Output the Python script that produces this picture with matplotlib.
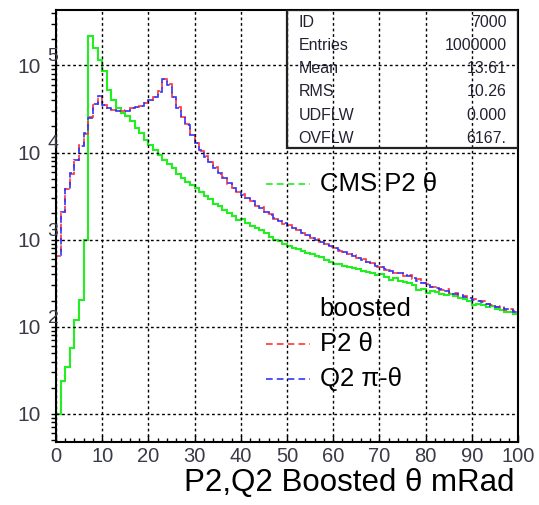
import numpy as np
import matplotlib
matplotlib.use('Agg')
import matplotlib.pyplot as plt
from matplotlib.ticker import MultipleLocator, LogLocator, NullFormatter
import matplotlib.transforms as mtransforms

plt.rcParams['font.family'] = ['Liberation Sans', 'DejaVu Sans']

# histogram: 100 bins of 1 mRad, 0..100
edges = np.arange(0, 101, 1)

# CMS P2 theta (green)
cms_p2 = [10, 24, 35, 57, 121, 203, 1000, 220000, 158000, 114000,
          87000, 52000, 40000, 32500, 28400, 26400, 22900, 19000, 16800, 14100,
          12100, 10600, 9400, 8300, 7300, 6600, 5750, 5100, 4600, 4300,
          3900, 3500, 3160, 2900, 2600, 2430, 2200, 2040, 1870, 1700,
          1730, 1550, 1420, 1350, 1300, 1200, 1070, 1000, 960, 900,
          850, 810, 790, 750, 710, 690, 650, 630, 590, 560,
          530, 520, 505, 490, 470, 460, 440, 430, 410, 390,
          400, 370, 345, 360, 335, 325, 315, 305, 265, 275,
          245, 255, 250, 240, 235, 240, 225, 215, 210, 200,
          180, 185, 180, 170, 175, 160, 158, 150, 150, 140]

# boosted Q2 pi-theta (blue)
q2_boost = [670, 2100, 3800, 5800, 8200, 12000, 16600, 25000, 36000, 45000,
            35500, 32500, 31000, 30000, 30000, 30200, 32500, 33000, 34500, 37000,
            40000, 44000, 50000, 70000, 60000, 44000, 32500, 26000, 21000, 16000,
            12800, 10700, 9000, 7900, 6700, 5800, 5100, 4450, 3900, 3600,
            3300, 3000, 2750, 2500, 2300, 2100, 1930, 1770, 1650, 1550,
            1450, 1350, 1280, 1200, 1120, 1060, 1000, 950, 880, 840,
            800, 760, 720, 690, 650, 620, 590, 560, 530, 500,
            480, 460, 440, 420, 410, 390, 380, 360, 340, 320,
            300, 290, 280, 270, 260, 250, 240, 230, 220, 215,
            205, 200, 195, 185, 175, 170, 168, 160, 155, 150]

# boosted P2 theta (red)
p2_boost = [650, 2050, 3850, 5700, 8300, 12100, 16400, 25500, 35500, 44000,
            35000, 32800, 30800, 30200, 29800, 30500, 32200, 33500, 34000, 37500,
            40500, 43500, 50500, 69000, 61000, 43500, 33000, 25500, 21500, 15800,
            13000, 10500, 9100, 7800, 6800, 5700, 5200, 4400, 3950, 3550,
            3350, 2950, 2800, 2450, 2350, 2050, 1950, 1750, 1680, 1520,
            1480, 1330, 1300, 1180, 1140, 1040, 1010, 940, 900, 830,
            810, 750, 730, 680, 660, 610, 600, 550, 540, 490,
            490, 450, 450, 410, 420, 380, 390, 350, 350, 315,
            310, 285, 290, 265, 270, 245, 245, 225, 228, 212,
            210, 196, 200, 182, 180, 168, 172, 158, 160, 152]

stats_names = ['ID', 'Entries', 'Mean', 'RMS', 'UDFLW', 'OVFLW']
stats_values = ['7000', '1000000', '13.61', '10.26', '0.000', '6167.']

fig = plt.figure(figsize=(5.39, 5.05), dpi=100)
ax = fig.add_axes([0.1039, 0.1257, 0.8572, 0.854])

ymin, ymax = 4.83, 4.3e5
ax.stairs(cms_p2, edges, baseline=ymin, color='#22ee22', lw=1.5)
ax.stairs(p2_boost, edges, baseline=ymin, color='#ff3333', lw=1.2, ls=(0, (4, 2.5)))
ax.stairs(q2_boost, edges, baseline=ymin, color='#3333ff', lw=1.2, ls=(2, (4, 2.5)))

ax.set_yscale('log')
ax.set_xlim(0, 100)
ax.set_ylim(ymin, ymax)

ax.grid(True, which='major', color='black', ls=(0, (2, 2)), lw=1.0)
ax.xaxis.set_major_locator(MultipleLocator(10))
ax.xaxis.set_minor_locator(MultipleLocator(2))
ax.yaxis.set_major_locator(LogLocator(base=10, numticks=10))
ax.yaxis.set_minor_locator(LogLocator(base=10, subs=np.arange(2, 10), numticks=20))
ax.yaxis.set_minor_formatter(NullFormatter())
ax.yaxis.set_major_formatter(NullFormatter())
ax.tick_params(axis='x', which='major', direction='in', length=5, width=1,
               labelsize=14.5, labelcolor='#3a3a48', pad=4)
ax.tick_params(axis='x', which='minor', direction='in', length=3, width=1)
ax.tick_params(axis='y', which='both', direction='out', length=3.5, width=1)
for sp in ax.spines.values():
    sp.set_linewidth(1.5)

# ROOT-style y labels: "10" with raised exponent
trans = mtransforms.blended_transform_factory(ax.transAxes, ax.transData)
for e in [1, 2, 3, 4, 5]:
    ax.text(-0.032, 10.0**(e - 0.02), '10', transform=trans, ha='right', va='center',
            fontsize=15, color='#3a3a48')
    if e > 1:
        ax.text(-0.018, 10.0**(e + 0.1), str(e), transform=trans, ha='left',
                va='center', fontsize=14, color='#3a3a48')

ax.text(0.992, -0.097, 'P2,Q2 Boosted θ mRad', transform=ax.transAxes,
        ha='right', va='center', fontsize=22.5)

# statistics box
box = plt.Rectangle((0.5, 0.68), 0.5, 0.32, transform=ax.transAxes,
                    fill=False, lw=1.6, ec='#222222', zorder=5)
ax.add_patch(box)
for i, (n, v) in enumerate(zip(stats_names, stats_values)):
    yy = 0.971 - i * 0.0535
    ax.text(0.525, yy, n, transform=ax.transAxes, ha='left', va='center',
            fontsize=11.5, color='#222233')
    ax.text(0.975, yy, v, transform=ax.transAxes, ha='right', va='center',
            fontsize=11.5, color='#222233')

# legend entries
leg_x0, leg_x1, txt_x = 0.454, 0.55, 0.571
ax.plot([leg_x0, leg_x1], [0.5977, 0.5977], transform=ax.transAxes,
        color='#22ee22', lw=1.2, ls=(0, (4, 2.5)))
ax.text(txt_x, 0.5977, 'CMS P2 θ', transform=ax.transAxes, ha='left',
        va='center', fontsize=18.5)
ax.text(txt_x, 0.3070, 'boosted', transform=ax.transAxes, ha='left',
        va='center', fontsize=18.5)
ax.plot([leg_x0, leg_x1], [0.2256, 0.2256], transform=ax.transAxes,
        color='#ff3333', lw=1.2, ls=(0, (4, 2.5)))
ax.text(txt_x, 0.2256, 'P2 θ', transform=ax.transAxes, ha='left',
        va='center', fontsize=18.5)
ax.plot([leg_x0, leg_x1], [0.1442, 0.1442], transform=ax.transAxes,
        color='#3333ff', lw=1.2, ls=(0, (4, 2.5)))
ax.text(txt_x, 0.1442, 'Q2 π-θ', transform=ax.transAxes, ha='left',
        va='center', fontsize=18.5)

fig.savefig('out.png', dpi=100)
